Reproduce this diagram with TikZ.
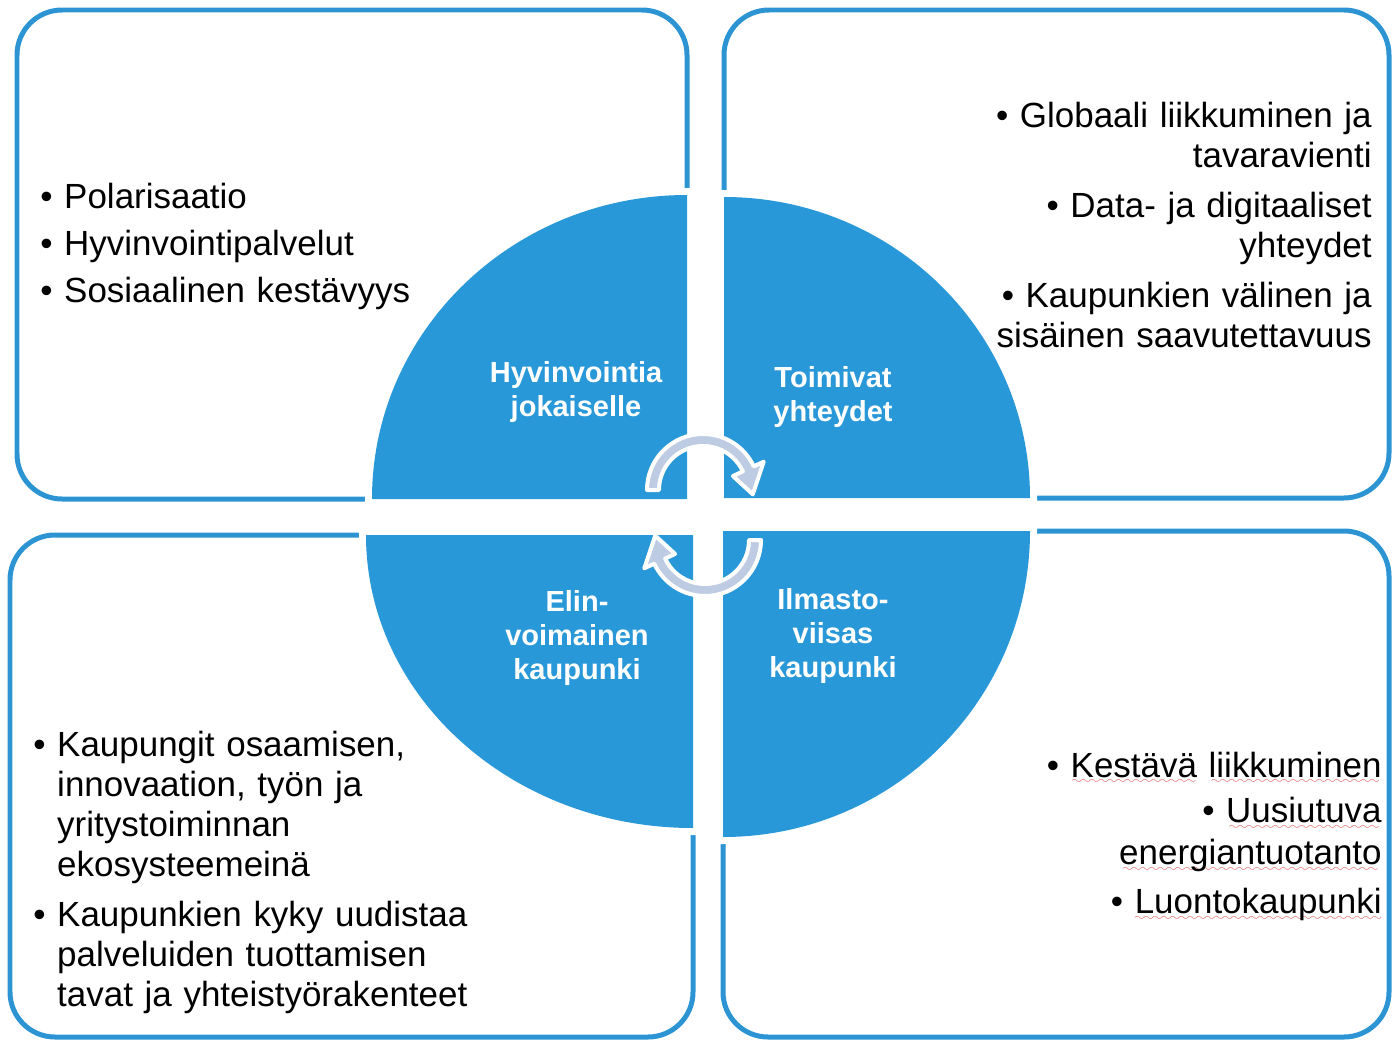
\documentclass[tikz,border=0pt]{standalone}
\usepackage{fontspec}
\setmainfont{Liberation Sans}
\usepackage{tikz}
\usetikzlibrary{positioning}
\definecolor{panelBlue}{RGB}{44, 148, 210}
\definecolor{pieBlue}{RGB}{41, 152, 216}
\definecolor{turnGray}{RGB}{189, 204, 226}
\definecolor{spellRed}{RGB}{220, 80, 80}
\font\wavefont=lasy6
\newcommand{\spellwave}[1]{\leavevmode\setbox0\hbox{#1}\rlap{\lower3.5pt\hbox to\wd0{\color{spellRed}\cleaders\hbox{\wavefont\char58}\hfil}}\box0\relax}
\newcommand{\ind}{\hphantom{\textbullet\ }}

\begin{document}
\begin{tikzpicture}[
    x=0.02cm, y=-0.02cm,
    panel/.style={draw=panelBlue, line width=0.1cm, rounded corners=0.9cm},
    quarter/.style={fill=pieBlue, preaction={draw=white, line width=0.28cm}},
    theme/.style={text=white, font=\fontsize{16.5}{19.4}\selectfont\bfseries, align=center, inner sep=0pt},
    bullets/.style={font=\fontsize{19.9}{22.8}\selectfont, inner sep=0pt},
    turn/.style={fill=turnGray, draw=white, line width=0.08cm, line join=round},
]
\useasboundingbox (0,0) rectangle (1393,1041);
% PANELS
\draw[panel] (17,10) rectangle (687,499);
\draw[panel] (724,10) rectangle (1389,498);
\draw[panel] (10,535) rectangle (693,1037);
\draw[panel] (723,531) rectangle (1389,1037);
% QUARTERS
\path[quarter] (687,499) -- (372,499) arc[start angle=180, end angle=270, x radius=315, y radius=304] -- cycle;
\path[quarter] (724,498) -- (724,197) arc[start angle=270, end angle=360, x radius=306, y radius=301] -- cycle;
\path[quarter] (693,535) -- (366,535) arc[start angle=180, end angle=90, x radius=327, y radius=293] -- cycle;
\path[quarter] (723,531) -- (1030,531) arc[start angle=0, end angle=90, x radius=307, y radius=306] -- cycle;
% THEMES
\node[theme] (wellbeing) at (576,392) {Hyvinvointia\\jokaiselle};
\node[theme] (links) at (833,397) {Toimivat\\yhteydet};
\node[theme] (vital) at (577,638) {Elin-\\voimainen\\kaupunki};
\node[theme] (climate) at (833,636) {Ilmasto-\\viisas\\kaupunki};
% TURN ARROWS
\foreach \cx/\cy/\ang in {703/490/0, 705/540/180} {
  \begin{scope}[shift={(\cx,\cy)}, rotate=\ang]
    \draw[turn] (180:56) arc[start angle=180, end angle=335, radius=56] -- (335:67) -- (5:50) -- (335:33) -- (335:44) arc[start angle=335, end angle=180, radius=44] -- cycle;
  \end{scope}
}
% LISTS
\node[bullets, text width=8cm, align=left, anchor=base west] (social) at (40,208) {\textbullet\ Polarisaatio\\[4pt]\textbullet\ Hyvinvointipalvelut\\[4pt]\textbullet\ Sosiaalinen kestävyys};
\node[bullets, text width=9cm, align=right, anchor=base east] (mobility) at (1372,127) {\textbullet\ Globaali liikkuminen ja\\tavaravienti\\[0.2cm]\textbullet\ Data- ja digitaaliset\\yhteydet\\[0.2cm]\textbullet\ Kaupunkien välinen ja\\sisäinen saavutettavuus};
\node[bullets, text width=9.5cm, align=left, anchor=base west] (economy) at (33,756) {\textbullet\ Kaupungit osaamisen,\\\ind innovaation, työn ja\\\ind yritystoiminnan\\\ind ekosysteemeinä\\[0.2cm]\textbullet\ Kaupunkien kyky uudistaa\\\ind palveluiden tuottamisen\\\ind tavat ja yhteistyörakenteet};
\node[bullets, font=\fontsize{19.9}{23.9}\selectfont, text width=7cm, align=right, anchor=base east] (climatelist) at (1382,777) {\textbullet\ \spellwave{Kestävä} \spellwave{liikkuminen}\\[0.08cm]\textbullet\ \spellwave{Uusiutuva}\\\spellwave{energiantuotanto}\\[0.14cm]\textbullet\ \spellwave{Luontokaupunki}};
\end{tikzpicture}
\end{document}
